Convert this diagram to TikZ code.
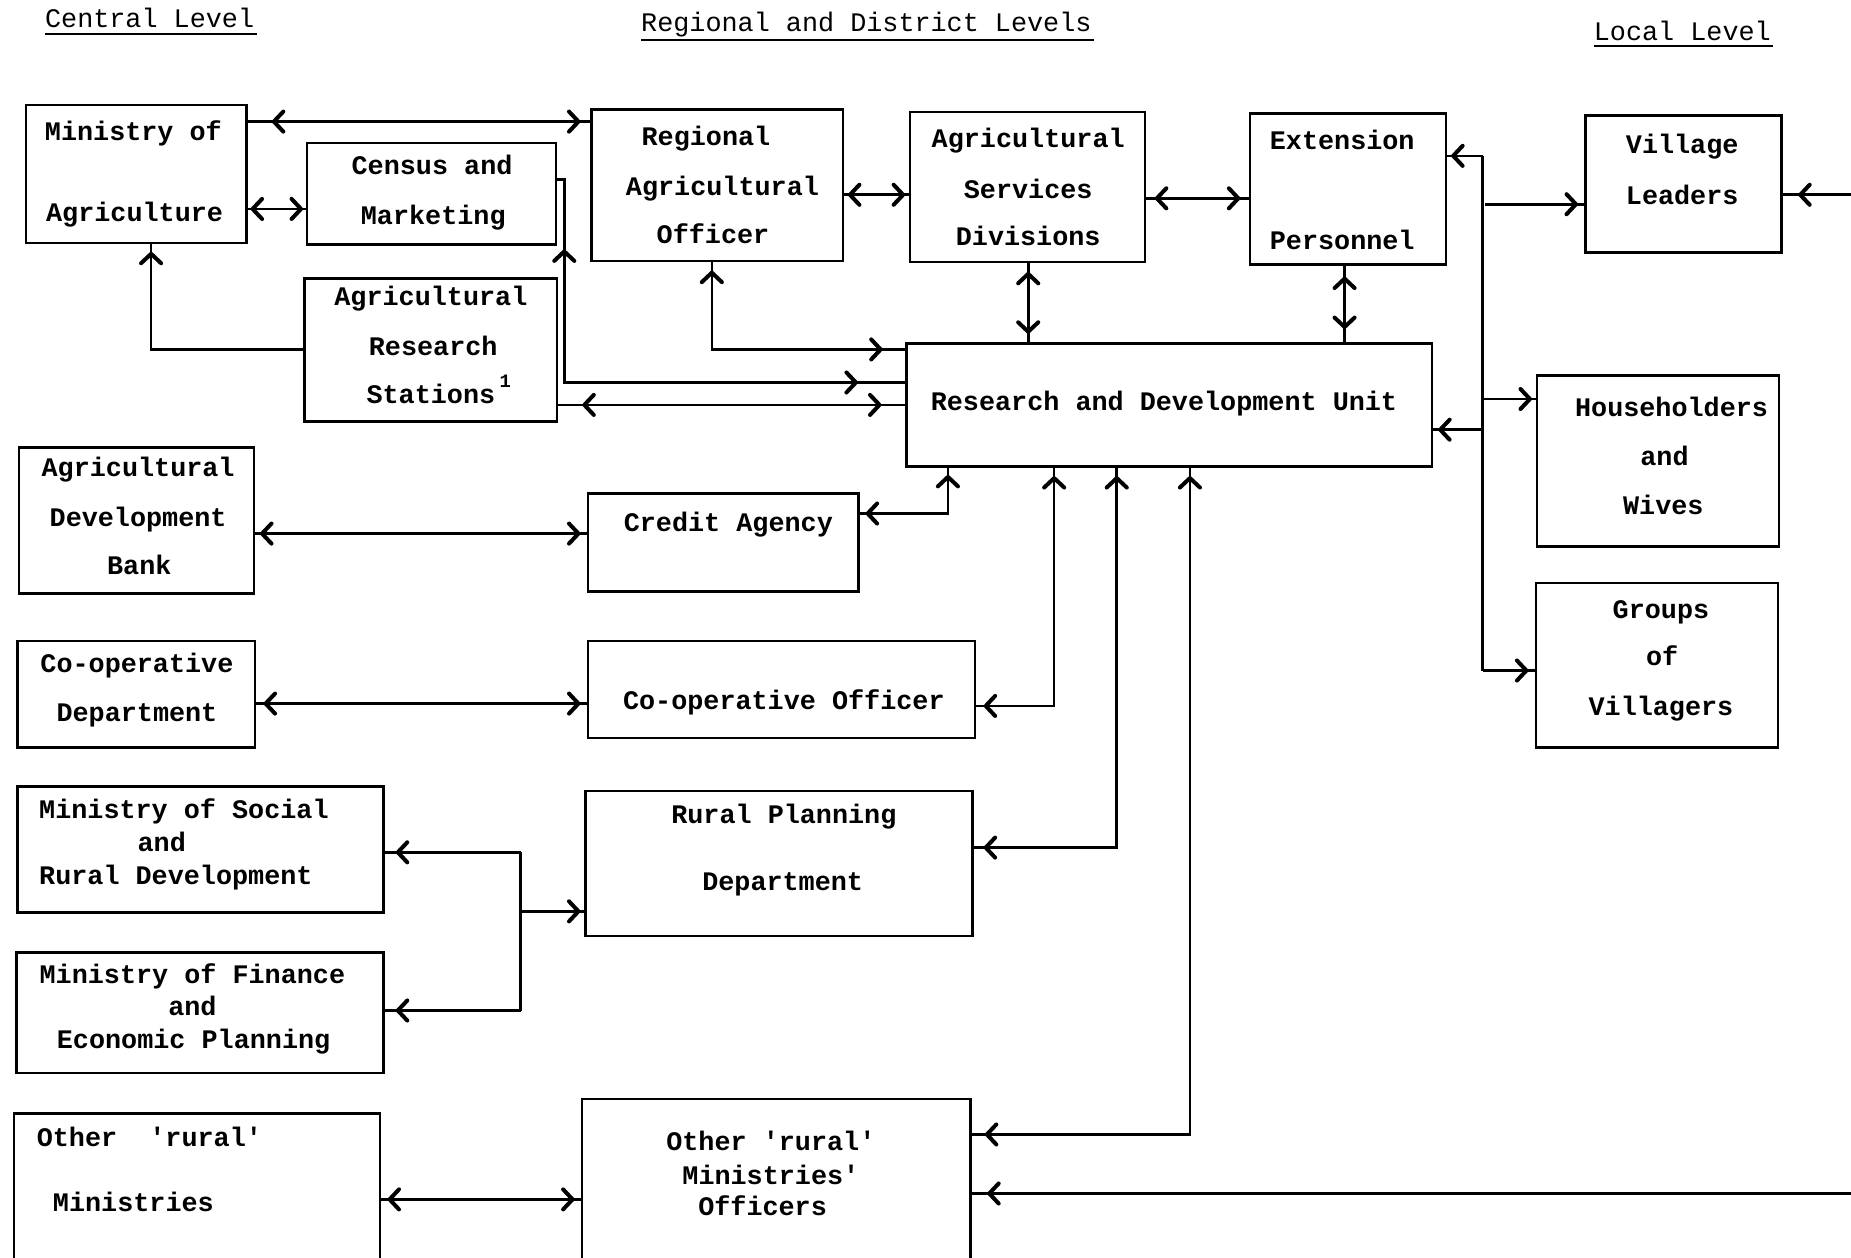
\documentclass[tikz,border=0pt]{standalone}
\usepackage{fontspec}
\newfontfamily\tw{Liberation Mono}
\usetikzlibrary{decorations.markings}
\newcommand\bx[5]{\node[boxst,minimum width={(#4-#2)*1pt},minimum height={(#5-#3)*1pt}] (#1) at ({(#2+#4)/2},{(#3+#5)/2}) {};}
\newcommand\tl[4]{\node[txt] (#1) at (#2,#3) {#4};}
\newcommand\tq{\textquotesingle}
\begin{document}
\begin{tikzpicture}[x=1pt,y=-1pt,
  chev/.style={line width=3.4pt,line cap=round,line join=round},
  boxst/.style={draw,line width=2.2pt,inner sep=0pt,outer sep=0pt},
  conn/.style={line width=2.2pt},
  hs/.style={postaction={decorate,decoration={markings,mark=at position #1 with {\draw[chev] (8pt,8.5pt) -- (0pt,0pt) -- (8pt,-8.5pt);}}}},
  he/.style={postaction={decorate,decoration={markings,mark=at position -#1 with {\draw[chev] (-8pt,8.5pt) -- (0pt,0pt) -- (-8pt,-8.5pt);}}}},
  txt/.style={anchor=base,inner sep=0pt,font=\tw\bfseries\fontsize{22.7}{27}\selectfont},
  hd/.style={anchor=base west,inner sep=0pt,font=\tw\fontsize{22.7}{27}\selectfont},
  ul/.style={line width=1.8pt}]
\useasboundingbox[fill=white] (0,0) rectangle (1568,1065);
\clip (0,0) rectangle (1568,1065);

% headings
\node[hd] (h1) at (38,23) {Central Level};
\node[hd] (h2) at (543,27) {Regional and District Levels};
\node[hd] (h3) at (1350,34) {Local Level};
\draw[ul] ([yshift=-6pt]h1.base west) -- ([yshift=-6pt,xshift=2pt]h1.base east);
\draw[ul] ([yshift=-7pt]h2.base west) -- ([yshift=-7pt,xshift=2pt]h2.base east);
\draw[ul] ([yshift=-5pt]h3.base west) -- ([yshift=-5pt,xshift=2pt]h3.base east);

% boxes
\bx{minag}{22}{89}{209}{206}
\bx{census}{260}{121}{471}{207}
\bx{ars}{258}{236}{472}{357}
\bx{rao}{501}{93}{714}{221}
\bx{asd}{771}{95}{970}{222}
\bx{ext}{1059}{96}{1225}{224}
\bx{vl}{1343}{98}{1509}{214}
\bx{rd}{768}{291}{1213}{395}
\bx{hh}{1302}{318}{1507}{463}
\bx{gv}{1301}{494}{1506}{633}
\bx{adb}{16}{379}{215}{503}
\bx{credit}{498}{418}{727}{501}
\bx{coopd}{15}{543}{216}{633}
\bx{coopo}{498}{543}{826}{625}
\bx{msrd}{15}{666}{325}{773}
\bx{rpd}{496}{670}{824}{793}
\bx{mfep}{14}{807}{325}{909}
\bx{orm}{12}{943}{322}{1080}
\bx{omo}{493}{931}{822}{1080}

% texts
\tl{t1a}{113}{119}{Ministry of}
\tl{t1b}{114}{188}{Agriculture}
\tl{t2a}{366}{148}{Census and}
\tl{t2b}{367}{190}{Marketing}
\tl{t3a}{365}{259}{Agricultural}
\tl{t3b}{367}{301}{Research}
\tl{t3c}{365}{342}{Stations}
\node[inner sep=0pt,font=\tw\bfseries\fontsize{16}{16}\selectfont] (t3d) at (428,323) {1};
\tl{t4a}{598}{123}{Regional}
\tl{t4b}{612}{166}{Agricultural}
\tl{t4c}{604}{206}{Officer}
\tl{t5a}{871}{125}{Agricultural}
\tl{t5b}{871}{168}{Services}
\tl{t5c}{871}{208}{Divisions}
\tl{t6a}{1137}{127}{Extension}
\tl{t6b}{1137}{211}{Personnel}
\tl{t7a}{1425}{130}{Village}
\tl{t7b}{1425}{173}{Leaders}
\tl{t8}{986}{348}{Research and Development Unit}
\tl{t9a}{1416}{353}{Householders}
\tl{t9b}{1410}{394}{and}
\tl{t9c}{1409}{436}{Wives}
\tl{t10a}{1407}{524}{Groups}
\tl{t10b}{1408}{564}{of}
\tl{t10c}{1407}{606}{Villagers}
\tl{t11a}{117}{404}{Agricultural}
\tl{t11b}{117}{446}{Development}
\tl{t11c}{118}{487}{Bank}
\tl{t12}{617}{450}{Credit Agency}
\tl{t13a}{116}{570}{Co-operative}
\tl{t13b}{116}{611}{Department}
\tl{t14}{664}{601}{Co-operative Officer}
\node[txt,anchor=base west] (t15a) at (33,693) {Ministry of Social};
\tl{t15b}{137}{721}{and}
\node[txt,anchor=base west] (t15c) at (33,749) {Rural Development};
\tl{t16a}{664}{698}{Rural Planning}
\tl{t16b}{663}{754}{Department}
\tl{t17a}{163}{833}{Ministry of Finance}
\tl{t17b}{163}{860}{and}
\tl{t17c}{164}{888}{Economic Planning}
\node[txt,anchor=base west] (t18a) at (31,971) {Other\ \ \tq rural\tq};
\tl{t18b}{113}{1026}{Ministries}
\tl{t19a}{653}{975}{Other \tq rural\tq}
\tl{t19b}{653}{1003}{Ministries\tq}
\tl{t19c}{646}{1030}{Officers}

% connectors: central / regional top
\draw[conn,hs=23pt,he=11pt] (minag.east |- 0,103) -- (rao.west |- 0,103);
\draw[conn,hs=5pt,he=5pt] (minag.east |- 0,177) -- (census.west |- 0,177);
\draw[conn,he=9pt] (ars.west |- 0,296) -| (minag.south -| 128,0);
\draw[conn,hs=68pt,he=43pt] (census.east |- 0,152) -- (478,152) -- (478,324) -- (rd.west |- 0,324);
\draw[conn,hs=23pt,he=23pt] (ars.east |- 0,343) -- (rd.west |- 0,343);
\draw[conn,hs=6pt,he=6pt] (rao.east |- 0,165) -- (asd.west |- 0,165);
\draw[conn,hs=10pt,he=10pt] (asd.east |- 0,168) -- (ext.west |- 0,168);
\draw[conn,hs=10pt,he=22pt] (rao.south -| 603,0) |- (rd.west |- 0,296);
\draw[conn,hs=10pt,he=10pt] (asd.south -| 871,0) -- (rd.north -| 871,0);
\draw[conn,hs=12pt,he=14pt] (ext.south -| 1139,0) -- (rd.north -| 1139,0);

% local bus
\coordinate (bt) at (1256,132);
\coordinate (bb) at (1256,568);
\coordinate (bv) at (1258,173);
\coordinate (bh) at (1256,338);
\coordinate (br) at (1256,364);
\draw[conn,he=6pt] (bt) -- (ext.east |- bt);
\draw[conn] (bt) -- (bb);
\draw[conn,he=8pt] (bv) -- (vl.west |- bv);
\draw[conn,he=6pt] (bh) -- (hh.west |- bh);
\draw[conn,he=7pt] (br) -- (rd.east |- br);
\draw[conn,he=8pt] (bb) -- (gv.west |- bb);

% lines from beyond the right edge
\coordinate (ev) at (1575,165);
\coordinate (eo) at (1575,1011);
\draw[conn,he=16pt] (ev) -- (vl.east |- ev);
\draw[conn,he=16pt] (eo) -- (omo.east |- eo);

% into R&D from below
\draw[conn,hs=8pt,he=9pt] (credit.east |- 0,435) -| (rd.south -| 803,0);
\draw[conn,hs=9pt,he=10pt] (coopo.east |- 0,598) -| (rd.south -| 893,0);
\draw[conn,hs=11pt,he=10pt] (rpd.east |- 0,718) -| (rd.south -| 946,0);
\draw[conn,hs=14pt,he=10pt] (omo.east |- 0,961) -| (rd.south -| 1008,0);

% left column links
\draw[conn,hs=7pt,he=8pt] (adb.east |- 0,452) -- (credit.west |- 0,452);
\draw[conn,hs=9pt,he=8pt] (coopd.east |- 0,596) -- (coopo.west |- 0,596);
\coordinate (jt) at (441,722);
\coordinate (jm) at (441,772);
\coordinate (jb) at (441,856);
\draw[conn,he=12pt] (jt) -- (msrd.east |- jt);
\draw[conn] (jt) -- (jb);
\draw[conn,he=12pt] (jb) -- (mfep.east |- jb);
\draw[conn,he=6pt] (jm) -- (rpd.west |- jm);
\draw[conn,hs=8pt,he=8pt] (orm.east |- 0,1016) -- (omo.west |- 0,1016);
\end{tikzpicture}
\end{document}
